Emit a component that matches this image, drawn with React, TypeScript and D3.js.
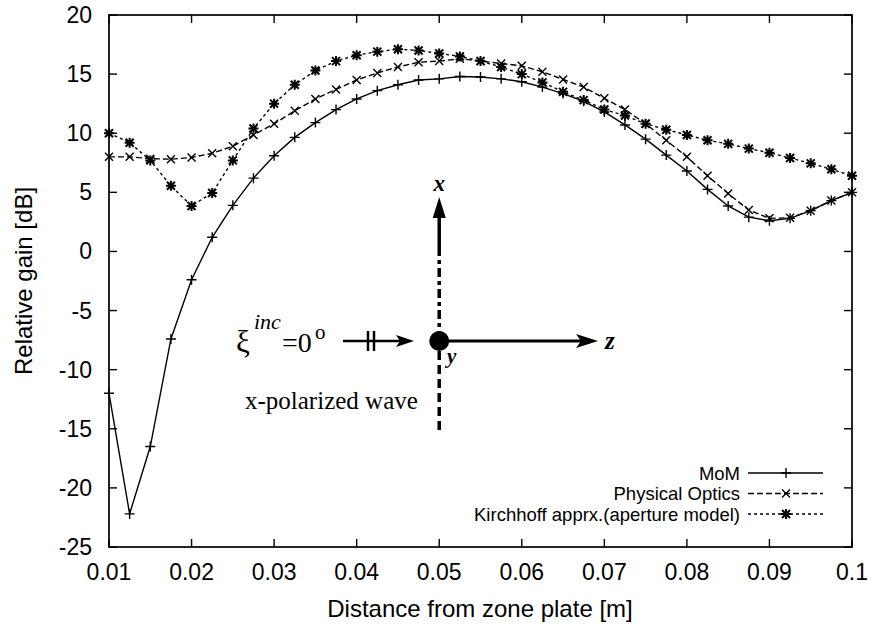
import React from "react";
import * as d3 from "d3";

// distance from zone plate [m], step 0.0025
const distances = d3.range(37).map((i) => +(0.01 + i * 0.0025).toFixed(4));

const momGain = [
  -12.0, -22.2, -16.5, -7.4, -2.4, 1.2, 3.9, 6.2, 8.1, 9.65,
  10.9, 12.0, 12.9, 13.6, 14.1, 14.5, 14.6, 14.8, 14.75, 14.6,
  14.35, 13.9, 13.35, 12.7, 11.8, 10.7, 9.5, 8.15, 6.8, 5.25,
  3.85, 2.9, 2.6, 2.8, 3.45, 4.3, 5.0,
];
const poGain = [
  8.0, 8.0, 7.85, 7.8, 7.95, 8.3, 8.9, 9.85, 10.8, 11.9,
  12.9, 13.7, 14.5, 15.1, 15.6, 16.0, 16.1, 16.3, 16.1, 15.9,
  15.7, 15.2, 14.55, 13.9, 12.95, 12.0, 10.8, 9.4, 8.0, 6.4,
  4.9, 3.5, 2.8, 2.85, 3.45, 4.3, 5.0,
];
const kirchhoffGain = [
  10.0, 9.2, 7.7, 5.55, 3.85, 4.95, 7.7, 10.4, 12.5, 14.1,
  15.3, 16.1, 16.6, 16.9, 17.1, 17.0, 16.75, 16.5, 16.1, 15.6,
  15.0, 14.3, 13.5, 12.8, 12.0, 11.5, 10.8, 10.3, 9.85, 9.4,
  9.1, 8.7, 8.35, 7.9, 7.45, 6.95, 6.4,
];

const xTicks = [0.01, 0.02, 0.03, 0.04, 0.05, 0.06, 0.07, 0.08, 0.09, 0.1];
const yTicks = [-25, -20, -15, -10, -5, 0, 5, 10, 15, 20];
const seriesNames = ["MoM", "Physical Optics", "Kirchhoff apprx.(aperture model)"];

const W = 873;
const H = 630;
const m = { left: 109, right: 852, top: 15, bottom: 547 };
const sans = "'Liberation Sans', Arial, Helvetica, sans-serif";
const serif = "'Liberation Serif', 'Times New Roman', serif";

type Kind = "plus" | "cross" | "star";

const Marker = ({ x, y, kind }: { x: number; y: number; kind: Kind }) => {
  const s = 5;
  const c = 4;
  const plus = `M${x - s},${y}H${x + s}M${x},${y - s}V${y + s}`;
  const cross = `M${x - c},${y - c}L${x + c},${y + c}M${x - c},${y + c}L${x + c},${y - c}`;
  const d = kind === "plus" ? plus : kind === "cross" ? cross : plus + cross;
  return <path d={d} stroke="#000" strokeWidth={kind === "star" ? 2 : 1.4} fill="none" />;
};

const App = () => {
  const x = d3.scaleLinear().domain([0.01, 0.1]).range([m.left, m.right]);
  const y = d3.scaleLinear().domain([-25, 20]).range([m.bottom, m.top]);

  const series: { name: string; values: number[]; dash: string; kind: Kind }[] = [
    { name: seriesNames[0], values: momGain, dash: "none", kind: "plus" },
    { name: seriesNames[1], values: poGain, dash: "6,3", kind: "cross" },
    { name: seriesNames[2], values: kirchhoffGain, dash: "3,3", kind: "star" },
  ];

  const line = d3
    .line<number>()
    .x((_, i) => x(distances[i]))
    .y((d) => y(d));

  const tick = 8;
  // inset diagram sits on the 0.05 m position
  const cx = x(0.05);
  const cy = 341;

  return (
    <svg width={W} height={H} style={{ position: "absolute", left: 0, top: 0, background: "#fff" }}>
      {/* ticks, mirrored on all sides */}
      {xTicks.map((t) => (
        <g key={"x" + t}>
          <line x1={x(t)} x2={x(t)} y1={m.bottom} y2={m.bottom - tick} stroke="#000" strokeWidth={1.4} />
          <line x1={x(t)} x2={x(t)} y1={m.top} y2={m.top + tick} stroke="#000" strokeWidth={1.4} />
          <text x={x(t)} y={580} textAnchor="middle" fontFamily={sans} fontSize={23}>
            {t}
          </text>
        </g>
      ))}
      {yTicks.map((t) => (
        <g key={"y" + t}>
          <line x1={m.left} x2={m.left + tick} y1={y(t)} y2={y(t)} stroke="#000" strokeWidth={1.4} />
          <line x1={m.right} x2={m.right - tick} y1={y(t)} y2={y(t)} stroke="#000" strokeWidth={1.4} />
          <text x={m.left - 17} y={y(t) + 8} textAnchor="end" fontFamily={sans} fontSize={23}>
            {t}
          </text>
        </g>
      ))}
      <rect
        x={m.left}
        y={m.top}
        width={m.right - m.left}
        height={m.bottom - m.top}
        fill="none"
        stroke="#000"
        strokeWidth={1.7}
      />

      {/* series */}
      {series.map((s) => (
        <g key={s.name}>
          <path d={line(s.values) ?? ""} fill="none" stroke="#000" strokeWidth={1.4} strokeDasharray={s.dash} />
          {s.values.map((v, i) => (
            <Marker key={i} x={x(distances[i])} y={y(v)} kind={s.kind} />
          ))}
        </g>
      ))}

      {/* legend */}
      {series.map((s, i) => {
        const ly = 473 + i * 20.5;
        return (
          <g key={"lg" + s.name}>
            <text x={740} y={ly + 6.5} textAnchor="end" fontFamily={sans} fontSize={18.5}>
              {s.name}
            </text>
            <line x1={748} x2={823} y1={ly} y2={ly} stroke="#000" strokeWidth={1.3} strokeDasharray={s.dash} />
            <Marker x={786} y={ly} kind={s.kind} />
          </g>
        );
      })}

      {/* axis titles */}
      <text x={480} y={617} textAnchor="middle" fontFamily={sans} fontSize={24}>
        Distance from zone plate [m]
      </text>
      <text
        transform={`translate(32, ${(m.top + m.bottom) / 2}) rotate(-90)`}
        textAnchor="middle"
        fontFamily={sans}
        fontSize={24}
      >
        Relative gain [dB]
      </text>

      {/* inset diagram */}
      <g>
        <line x1={cx} x2={cx} y1={214} y2={247} stroke="#000" strokeWidth={3.5} />
        <line x1={cx} x2={cx} y1={247} y2={332} stroke="#000" strokeWidth={3.5} strokeDasharray="9,4,4,4" />
        <line x1={cx} x2={cx} y1={351} y2={433} stroke="#000" strokeWidth={3.5} strokeDasharray="9,5" />
        <path d={`M${cx},197 L${cx - 6.5},218 L${cx + 6.5},218 Z`} fill="#000" />
        <text x={cx} y={191} textAnchor="middle" fontFamily={serif} fontStyle="italic" fontWeight="bold" fontSize={23}>
          x
        </text>
        <circle cx={cx} cy={cy} r={10} fill="#000" />
        <line x1={cx} x2={582} y1={cy} y2={cy} stroke="#000" strokeWidth={3} />
        <path d={`M598,${cy} L576,${cy - 7} L581,${cy} L576,${cy + 7} Z`} fill="#000" />
        <text x={605} y={cy + 8} fontFamily={serif} fontStyle="italic" fontWeight="bold" fontSize={25}>
          z
        </text>
        <text x={447} y={cy + 22} fontFamily={serif} fontStyle="italic" fontWeight="bold" fontSize={21}>
          y
        </text>
        <line x1={343} x2={400} y1={cy} y2={cy} stroke="#000" strokeWidth={2.5} />
        <path d={`M414,${cy} L396,${cy - 6} L400,${cy} L396,${cy + 6} Z`} fill="#000" />
        <line x1={368} x2={368} y1={cy - 10} y2={cy + 10} stroke="#000" strokeWidth={2.5} />
        <line x1={374} x2={374} y1={cy - 10} y2={cy + 10} stroke="#000" strokeWidth={2.5} />
        <text x={236} y={352} fontFamily={serif} fontSize={31}>
          ξ
        </text>
        <text x={254} y={329} fontFamily={serif} fontStyle="italic" fontSize={22}>
          inc
        </text>
        <text x={282} y={352} fontFamily={serif} fontSize={28}>
          =0
        </text>
        <text x={315} y={339} fontFamily={serif} fontSize={21}>
          o
        </text>
        <text x={245} y={409} fontFamily={serif} fontSize={25}>
          x-polarized wave
        </text>
      </g>
    </svg>
  );
};

export default App;
